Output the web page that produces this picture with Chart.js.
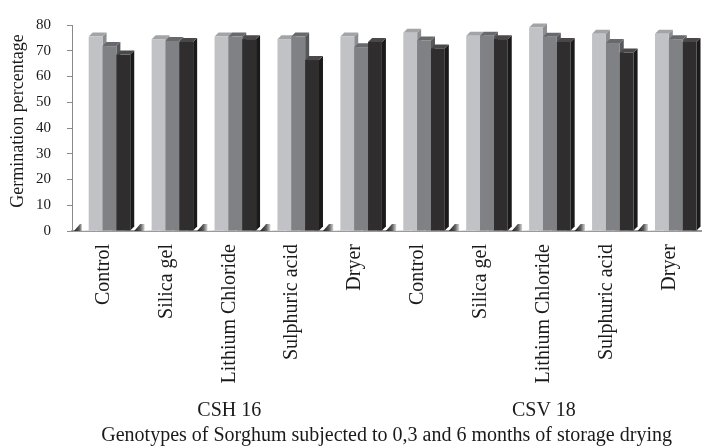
<!DOCTYPE html>
<html>
<head>
<meta charset="utf-8">
<script src="https://cdn.jsdelivr.net/npm/chart.js@4.4.1/dist/chart.umd.min.js"></script>
<style>
  html, body { margin: 0; padding: 0; background: #fff; }
  #wrap { width: 707px; height: 448px; }
</style>
</head>
<body>
<div id="wrap"><canvas id="c" width="707" height="448"></canvas></div>
<script>
// Drying treatments, listed once per genotype
const treatments = ['Control', 'Silica gel', 'Lithium Chloride', 'Sulphuric acid', 'Dryer',
                    'Control', 'Silica gel', 'Lithium Chloride', 'Sulphuric acid', 'Dryer'];
const genotypes = ['CSH 16', 'CSV 18'];
const seriesNames = ['0 months', '3 months', '6 months'];

// Germination percentage after 0, 3 and 6 months of storage
const months0 = [75.5, 74.5, 75.5, 74.5, 75.5, 77.0, 75.8, 79.0, 76.6, 76.6];
const months3 = [71.8, 73.8, 75.5, 75.5, 71.4, 74.0, 75.8, 75.4, 73.0, 74.5];
const months6 = [68.5, 73.4, 74.5, 66.4, 73.4, 70.9, 74.5, 73.4, 69.3, 73.4];

const yTicks = [0, 10, 20, 30, 40, 50, 60, 70, 80];
const xTitle = 'Genotypes of Sorghum subjected to 0,3 and 6 months of storage drying';
const yTitle = 'Germination percentage';

const SERIF = "'Liberation Serif', 'Times New Roman', serif";
const DEPTH = 4;      // oblique depth of the 3-D bars
const SHIFT = 6;      // bars sit slightly right of the category centre

// front / top / side shades for each series
const shades = [
  { front: '#c1c2c6', top: '#a3a4a8', side: '#8c8d91' },
  { front: '#808185', top: '#68696d', side: '#56575b' },
  { front: '#2f2d2e', top: '#4a4849', side: '#1b1a1b' }
];

function drawBar(ctx, el, shade) {
  const w = el.width, l = el.x - w / 2 + SHIFT, r = el.x + w / 2 + SHIFT;
  const t = el.y, b = el.base, d = DEPTH;
  // side face
  ctx.fillStyle = shade.side;
  ctx.beginPath();
  ctx.moveTo(r, t); ctx.lineTo(r + d, t - d); ctx.lineTo(r + d, b - d); ctx.lineTo(r, b);
  ctx.closePath(); ctx.fill();
  // top face
  ctx.fillStyle = shade.top;
  ctx.beginPath();
  ctx.moveTo(l, t); ctx.lineTo(l + d, t - d); ctx.lineTo(r + d, t - d); ctx.lineTo(r, t);
  ctx.closePath(); ctx.fill();
  // front face
  ctx.fillStyle = shade.front;
  ctx.fillRect(l, t, r - l, b - t);
}

const bars3d = {
  id: 'bars3d',
  beforeDatasetsDraw(chart) {
    const ctx = chart.ctx;
    const area = chart.chartArea;
    const first = chart.getDatasetMeta(0).data;
    const last = chart.getDatasetMeta(2).data;
    const base = area.bottom;
    ctx.save();
    // shadows on the floor between the groups
    for (let i = 0; i < first.length; i++) {
      const startX = i === 0 ? area.left + 2 : last[i - 1].x + last[i - 1].width / 2 + SHIFT + DEPTH;
      const endX = first[i].x - first[i].width / 2 + SHIFT;
      const g = ctx.createLinearGradient(startX, 0, endX, 0);
      g.addColorStop(0, '#1c1c1c');
      g.addColorStop(0.35, '#5a5a5a');
      g.addColorStop(0.65, '#f2f2f2');
      g.addColorStop(1, '#9c9c9c');
      ctx.fillStyle = g;
      ctx.beginPath();
      ctx.moveTo(startX, base);
      ctx.lineTo(startX + 6, base - 7);
      ctx.lineTo(endX + 2, base - 7);
      ctx.lineTo(endX, base);
      ctx.closePath();
      ctx.fill();
    }
    ctx.restore();
  },
  afterDatasetsDraw(chart) {
    const ctx = chart.ctx;
    const metas = [0, 1, 2].map(i => chart.getDatasetMeta(i).data);
    ctx.save();
    ctx.fillStyle = '#fff';
    // hide the flat bars, then build each group left to right
    for (let c = 0; c < metas[0].length; c++) {
      for (let s = 0; s < 3; s++) {
        const el = metas[s][c];
        ctx.fillRect(el.x - el.width / 2 - 1, el.y - 1, el.width + 2, el.base - el.y + 1);
      }
    }
    for (let c = 0; c < metas[0].length; c++) {
      for (let s = 0; s < 3; s++) drawBar(ctx, metas[s][c], shades[s]);
    }
    ctx.restore();
  }
};

// genotype names under each block of treatments, plus both axis titles
const axisText = {
  id: 'axisText',
  afterDraw(chart) {
    const ctx = chart.ctx;
    const xs = chart.scales.x;
    const area = chart.chartArea;
    ctx.save();
    ctx.fillStyle = '#1a1a1a';
    ctx.textAlign = 'center';
    ctx.textBaseline = 'alphabetic';
    ctx.font = '20px ' + SERIF;
    const per = treatments.length / genotypes.length;
    genotypes.forEach((g, i) => {
      const x = (xs.getPixelForValue(i * per) + xs.getPixelForValue(i * per + per - 1)) / 2;
      ctx.fillText(g, x, 416);
    });
    ctx.fillText(xTitle, (area.left + area.right) / 2, 441);

    ctx.font = '18px ' + SERIF;
    ctx.textBaseline = 'middle';
    ctx.translate(18, (area.top + area.bottom) / 2 - 7);
    ctx.rotate(-Math.PI / 2);
    ctx.fillText(yTitle, 0, 0);
    ctx.restore();
  }
};

new Chart(document.getElementById('c'), {
  type: 'bar',
  data: {
    labels: treatments,
    datasets: [months0, months3, months6].map((v, i) => ({
      label: seriesNames[i],
      data: v,
      backgroundColor: shades[i].front,
      borderWidth: 0,
      barPercentage: 1,
      categoryPercentage: 0.66
    }))
  },
  options: {
    responsive: false,
    animation: false,
    devicePixelRatio: 1,
    layout: { padding: { left: 0, right: 5, top: 9, bottom: 0 } },
    plugins: { legend: { display: false }, tooltip: { enabled: false } },
    scales: {
      x: {
        grid: { drawOnChartArea: false, drawTicks: false },
        border: { color: '#9a9a9a', width: 2 },
        ticks: {
          minRotation: 90, maxRotation: 90, padding: 13,
          color: '#1a1a1a', font: { family: SERIF, size: 20 }
        },
        afterFit(s) { s.height = 448 - 231; }
      },
      y: {
        min: 0, max: 80,
        afterBuildTicks(s) { s.ticks = yTicks.map(v => ({ value: v })); },
        grid: { drawOnChartArea: false, tickLength: 5, color: '#8a8a8a' },
        border: { color: '#8a8a8a', width: 1 },
        ticks: { padding: 16, color: '#1a1a1a', font: { family: SERIF, size: 15 } },
        afterFit(s) { s.width = 72; }
      }
    }
  },
  plugins: [bars3d, axisText]
});
</script>
</body>
</html>
